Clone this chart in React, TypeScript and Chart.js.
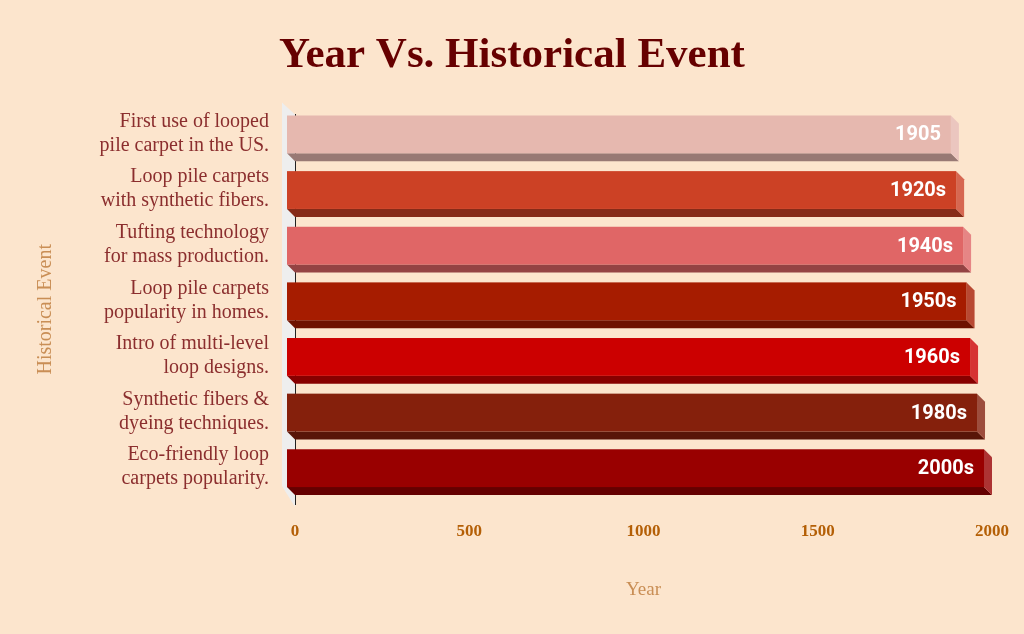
import React, { useEffect, useRef } from "react";
import { Chart, registerables } from "chart.js";

Chart.register(...registerables);

const categories: string[][] = [
  ["First use of looped", "pile carpet in the US."],
  ["Loop pile carpets", "with synthetic fibers."],
  ["Tufting technology", "for mass production."],
  ["Loop pile carpets", "popularity in homes."],
  ["Intro of multi-level", "loop designs."],
  ["Synthetic fibers &", "dyeing techniques."],
  ["Eco-friendly loop", "carpets popularity."],
];
const years: number[] = [1905, 1920, 1940, 1950, 1960, 1980, 2000];
const yearLabels: string[] = ["1905", "1920s", "1940s", "1950s", "1960s", "1980s", "2000s"];
const barColors: string[] = ["#e6b8af", "#cc4125", "#e06666", "#a61c00", "#cc0000", "#85200c", "#990000"];

const BG = "#fce5cd";
const DEPTH = 8;

function hexToRgb(h: string): number[] {
  const n = parseInt(h.slice(1), 16);
  return [(n >> 16) & 255, (n >> 8) & 255, n & 255];
}
function shade(h: string, f: number): string {
  const [r, g, b] = hexToRgb(h);
  return `rgb(${Math.round(r * f)},${Math.round(g * f)},${Math.round(b * f)})`;
}
function tint(h: string, f: number): string {
  const [r, g, b] = hexToRgb(h);
  return `rgb(${Math.round(r + (255 - r) * f)},${Math.round(g + (255 - g) * f)},${Math.round(b + (255 - b) * f)})`;
}

const bgPlugin = {
  id: "bg3d",
  beforeDraw(chart: any) {
    const { ctx, chartArea } = chart;
    ctx.save();
    ctx.fillStyle = BG;
    ctx.fillRect(0, 0, chart.width, chart.height);
    const l = chartArea.left;
    const t = chartArea.top;
    const b = chartArea.bottom;
    ctx.fillStyle = "#eeeeee";
    ctx.beginPath();
    ctx.moveTo(l - 13, t - 12);
    ctx.lineTo(l, t);
    ctx.lineTo(l, b + 3);
    ctx.lineTo(l - 13, b - 18);
    ctx.closePath();
    ctx.fill();
    ctx.restore();
  },
};

const bars3dPlugin = {
  id: "bars3d",
  afterDatasetsDraw(chart: any) {
    const { ctx } = chart;
    const meta = chart.getDatasetMeta(0);
    const d = DEPTH;
    ctx.save();
    meta.data.forEach((el: any, i: number) => {
      const p = el.getProps(["x", "y", "base", "height"], true);
      const left = p.base;
      const right = p.x;
      const top = p.y - p.height / 2;
      const bottom = p.y + p.height / 2;
      const c = barColors[i];
      ctx.fillStyle = shade(c, 0.66);
      ctx.beginPath();
      ctx.moveTo(left - d, bottom - d);
      ctx.lineTo(right - d, bottom - d);
      ctx.lineTo(right, bottom);
      ctx.lineTo(left, bottom);
      ctx.closePath();
      ctx.fill();
      ctx.fillStyle = tint(c, 0.2);
      ctx.beginPath();
      ctx.moveTo(right - d, top - d);
      ctx.lineTo(right, top);
      ctx.lineTo(right, bottom);
      ctx.lineTo(right - d, bottom - d);
      ctx.closePath();
      ctx.fill();
      ctx.fillStyle = c;
      ctx.fillRect(left - d, top - d, right - left, bottom - top);
      ctx.fillStyle = "#ffffff";
      ctx.font = "bold 20px Roboto";
      ctx.textAlign = "right";
      ctx.textBaseline = "middle";
      ctx.fillText(yearLabels[i], right - d - 10, p.y - d + 1);
    });
    ctx.restore();
  },
};

export default function App() {
  const ref = useRef<HTMLCanvasElement | null>(null);
  useEffect(() => {
    if (!ref.current) return;
    const chart = new Chart(ref.current, {
      type: "bar",
      data: {
        labels: categories,
        datasets: [
          {
            data: years,
            backgroundColor: "rgba(0,0,0,0)",
            borderWidth: 0,
            barPercentage: 0.8,
            categoryPercentage: 0.85,
          },
        ],
      },
      options: {
        indexAxis: "y",
        animation: false,
        responsive: false,
        layout: { padding: { top: 20, left: 32, right: 32, bottom: 20 } },
        plugins: {
          legend: { display: false },
          tooltip: { enabled: false },
          title: {
            display: true,
            text: "Year Vs. Historical Event",
            color: "#660000",
            font: { family: "'Liberation Serif', serif", size: 43, weight: "bold" },
            padding: { top: 10, bottom: 33 },
          },
        },
        scales: {
          x: {
            min: 0,
            max: 2000,
            grid: { display: false, drawTicks: false },
            border: { display: false },
            ticks: {
              stepSize: 500,
              padding: 17,
              color: "#b45f06",
              font: { family: "'Liberation Serif', serif", size: 17, weight: "bold" },
              callback: (v: any) => String(v),
            },
            title: {
              display: true,
              text: "Year",
              color: "#c98e55",
              font: { family: "'Liberation Serif', serif", size: 19 },
              padding: { top: 10, bottom: 13 },
            },
            afterFit: (s: any) => {
              s.height = 110;
              s.paddingRight = 0;
            },
          },
          y: {
            grid: { display: false, drawTicks: false },
            border: { display: true, color: "#222222", width: 1 },
            ticks: {
              padding: 26,
              labelOffset: -9,
              color: "#8b2e2e",
              font: { family: "'Liberation Serif', serif", size: 20, lineHeight: 1.2 },
            },
            title: {
              display: true,
              text: "Historical Event",
              color: "#c98e55",
              font: { family: "'Liberation Serif', serif", size: 20 },
              padding: { top: 2, bottom: 0 },
            },
            afterFit: (s: any) => {
              s.width = 263;
            },
          },
        },
      } as any,
      plugins: [bgPlugin, bars3dPlugin],
    });
    return () => chart.destroy();
  }, []);
  return (
    <div style={{ position: "fixed", left: 0, top: 0, width: 1024, height: 634, background: BG }}>
      <canvas ref={ref} width={1024} height={634} style={{ display: "block" }} />
    </div>
  );
}
